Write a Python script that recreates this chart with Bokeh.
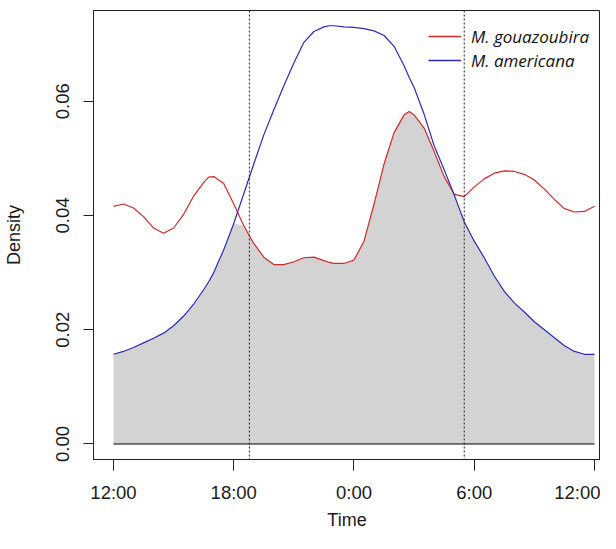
from bokeh.plotting import figure
from bokeh.models import (Range1d, FixedTicker, PrintfTickFormatter, Span,
                          Legend, LegendItem)
from bokeh.embed import file_html
from bokeh.resources import INLINE
import numpy as np

# hours since 12:00 (noon)
hours = [0, 0.5, 1, 1.5, 2, 2.5, 3, 3.5, 4, 4.5, 4.75, 5, 5.5, 6, 6.5, 7, 7.5, 8,
         8.5, 9, 9.5, 10, 10.5, 10.75, 11, 11.5, 12, 12.5, 13, 13.5, 14, 14.5,
         14.75, 15, 15.5, 16, 16.5, 17, 17.5, 18, 18.5, 19, 19.5, 20, 20.5, 21,
         21.5, 22, 22.5, 23, 23.5, 24]

gouazoubira = [0.0416, 0.0420, 0.0413, 0.0398, 0.0378, 0.0369, 0.0378, 0.0402,
               0.0434, 0.0458, 0.0467, 0.0468, 0.0456, 0.0420, 0.0382, 0.0351,
               0.0327, 0.0314, 0.0314, 0.0319, 0.0326, 0.0327, 0.0321, 0.0318,
               0.0316, 0.0316, 0.0322, 0.0355, 0.0420, 0.0490, 0.0545, 0.0576,
               0.0582, 0.0576, 0.0553, 0.0512, 0.0468, 0.0437, 0.0433, 0.0450,
               0.0464, 0.0474, 0.0478, 0.0477, 0.0472, 0.0462, 0.0446, 0.0428,
               0.0412, 0.0406, 0.0407, 0.0416]

americana = [0.0157, 0.0162, 0.0169, 0.0177, 0.0185, 0.0194, 0.0207, 0.0224,
             0.0245, 0.0270, 0.0284, 0.0300, 0.0340, 0.0386, 0.0438, 0.0490,
             0.0541, 0.0585, 0.0627, 0.0667, 0.0703, 0.0722, 0.0730, 0.0732,
             0.0732, 0.0730, 0.0729, 0.0727, 0.0723, 0.0715, 0.0696, 0.0662,
             0.0642, 0.0624, 0.0577, 0.0522, 0.0480, 0.0436, 0.0389, 0.0355,
             0.0326, 0.0294, 0.0267, 0.0247, 0.0231, 0.0214, 0.0200, 0.0186,
             0.0172, 0.0162, 0.0157, 0.0157]

sun_times = [6.78, 17.5]  # sunset, sunrise (hours since noon)

x_ticks = [0, 6, 12, 18, 24]
x_tick_labels = ["12:00", "18:00", "0:00", "6:00", "12:00"]
y_ticks = [0.0, 0.02, 0.04, 0.06]

series_names = ["M. gouazoubira", "M. americana"]
series_colors = ["#d02a2a", "#2b2bb8"]

overlap = np.minimum(np.array(gouazoubira), np.array(americana))

p = figure(width=600, height=533, output_backend="svg", toolbar_location=None,
           x_range=Range1d(-0.998, 24.30), y_range=Range1d(-0.002713, 0.07587),
           min_border_left=93, min_border_right=0, min_border_top=10,
           min_border_bottom=74)

p.background_fill_color = "white"
p.border_fill_color = "white"
p.outline_line_color = "#222222"
p.outline_line_width = 1
p.xgrid.visible = False
p.ygrid.visible = False

p.varea(x=hours, y1=0, y2=overlap, fill_color="#d3d3d3")
p.line(x=[hours[0], hours[-1]], y=[0, 0], line_color="black", line_width=1)

r1 = p.line(x=hours, y=gouazoubira, line_color=series_colors[0], line_width=1.2)
r2 = p.line(x=hours, y=americana, line_color=series_colors[1], line_width=1.2)

# legend swatches
k1 = p.line(x=[np.nan], y=[np.nan], line_color=series_colors[0], line_width=1.5)
k2 = p.line(x=[np.nan], y=[np.nan], line_color=series_colors[1], line_width=1.5)

for t in sun_times:
    p.add_layout(Span(location=t, dimension="height", line_color="#222222",
                      line_dash="2 2", line_width=1))

# axes
xa = p.xaxis[0]
xa.ticker = FixedTicker(ticks=x_ticks)
xa.major_label_overrides = {t: lab for t, lab in zip(x_ticks, x_tick_labels)}
xa.axis_label = "Time"
ya = p.yaxis[0]
ya.ticker = FixedTicker(ticks=y_ticks)
ya.formatter = PrintfTickFormatter(format="%.2f")
ya.axis_label = "Density"
ya.major_label_orientation = "vertical"

for ax in (xa, ya):
    ax.axis_line_color = "#222222"
    ax.major_tick_line_color = "#222222"
    ax.minor_tick_line_color = None
    ax.major_tick_in = 0
    ax.major_label_text_font = "Liberation Sans"
    ax.major_label_text_font_size = "18.5px"
    ax.major_label_text_color = "#1a1a1a"
    ax.axis_label_text_font = "Liberation Sans"
    ax.axis_label_text_font_size = "18px"
    ax.axis_label_text_font_style = "normal"
    ax.axis_label_text_color = "#1a1a1a"

xa.major_tick_out = 11
xa.major_label_standoff = 11
xa.axis_label_standoff = 4
ya.major_tick_out = 10
ya.major_label_standoff = 14
ya.axis_label_standoff = 30

legend = Legend(items=[LegendItem(label=series_names[0], renderers=[k1]),
                       LegendItem(label=series_names[1], renderers=[k2])],
                location=(335, 387), padding=0, spacing=0, margin=0,
                glyph_width=33, glyph_height=24, label_height=24,
                label_standoff=10, background_fill_alpha=0,
                border_line_color=None,
                label_text_font="Open Sans", label_text_font_style="italic",
                label_text_font_size="17px", label_text_color="#111111")
p.add_layout(legend)

open("out.html", "w").write(file_html(p, INLINE))
